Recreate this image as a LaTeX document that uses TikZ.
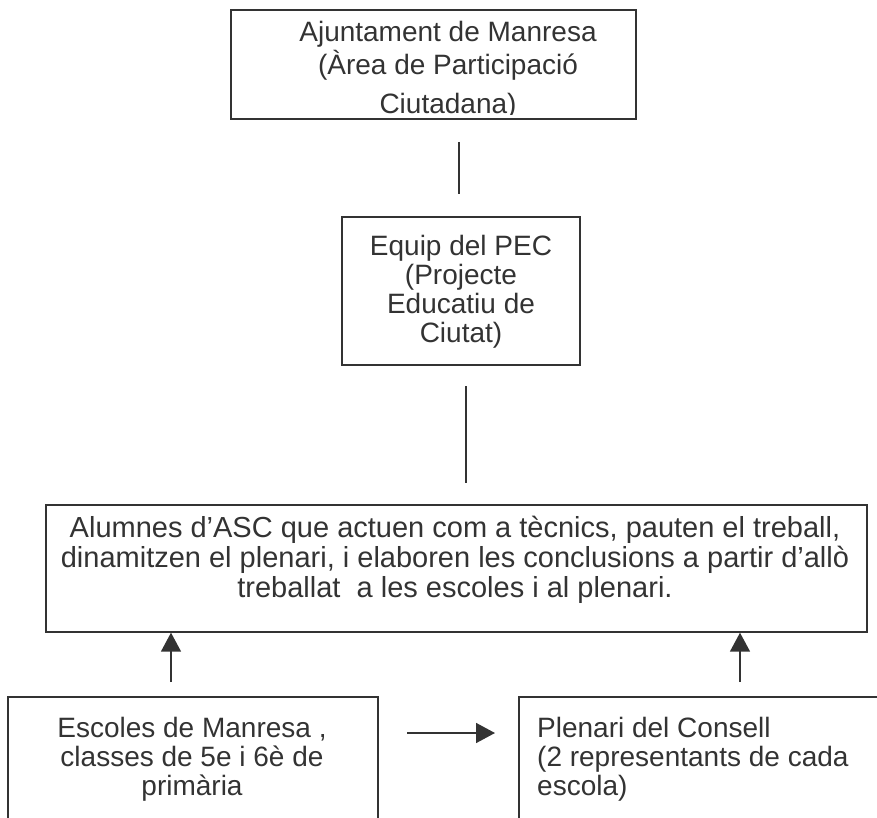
\documentclass[tikz,border=0pt]{standalone}
\usepackage{fontspec}
\setmainfont{Liberation Sans}
\usetikzlibrary{arrows.meta}
\definecolor{ink}{HTML}{333333}
\begin{document}
\begin{tikzpicture}[x=1pt,y=-1pt,
  box/.style={draw=ink, line width=1.7pt, rectangle, inner sep=0pt, anchor=north west},
  txt/.style={text=ink, inner sep=0pt, font=\fontsize{28}{30}\selectfont, align=center},
  ltxt/.style={text=ink, inner sep=0pt, font=\fontsize{28}{29}\selectfont, align=left},
  conn/.style={draw=ink, line width=1.6pt},
  arr/.style={draw=ink, line width=1.6pt, -{Triangle[length=19pt,width=20pt]}}]
\useasboundingbox (0,0) rectangle (877,818);
% top box
\node[box, minimum width=405pt, minimum height=109pt] (aj) at (230,9) {};
\begin{scope}
  \clip (232,11) rectangle (633,114.5);
  \node[txt, anchor=north, font=\fontsize{28}{33}\selectfont] (ajt) at (448,21) {Ajuntament de Manresa\\(Àrea de Participació\\[6pt]Ciutadana)};
\end{scope}
% PEC box
\node[box, minimum width=238pt, minimum height=148pt] (pec) at (341,216) {};
\node[txt, anchor=north, font=\fontsize{28}{29}\selectfont] (pect) at (461,235) {Equip del PEC\\(Projecte\\Educatiu de\\Ciutat)};
% big box
\node[box, minimum width=821pt, minimum height=127pt] (asc) at (45,504) {};
\node[txt, anchor=north, font=\fontsize{29}{30}\selectfont] (asct) at (455,516) {Alumnes d’ASC que actuen com a tècnics, pauten el treball,\\dinamitzen el plenari, i elaboren les conclusions a partir d’allò\\treballat\ \ a les escoles i al plenari.};
% bottom boxes
\node[box, minimum width=370pt, minimum height=140pt] (esc) at (7,696) {};
\node[txt, anchor=north, font=\fontsize{28}{29}\selectfont] (esct) at (192,717) {Escoles de Manresa ,\\classes de 5e i 6è de\\primària};
\node[box, minimum width=380pt, minimum height=140pt] (ple) at (518,696) {};
\node[ltxt, anchor=north west] (plet) at (537,717) {Plenari del Consell\\(2 representants de cada\\escola)};
% connectors
\coordinate (c1a) at (459,142);
\coordinate (c1b) at (459,194);
\coordinate (c2a) at (466,386);
\coordinate (c2b) at (466,483);
\draw[conn] (c1a) -- (c1b);
\draw[conn] (c2a) -- (c2b);
\coordinate (a1) at (171,682);
\coordinate (a2) at (740,682);
\draw[arr] (a1) -- (a1 |- asc.south);
\draw[arr] (a2) -- (a2 |- asc.south);
\coordinate (h1) at (407,733);
\coordinate (h2) at (495,733);
\draw[arr] (h1) -- (h2);
\end{tikzpicture}
\end{document}
